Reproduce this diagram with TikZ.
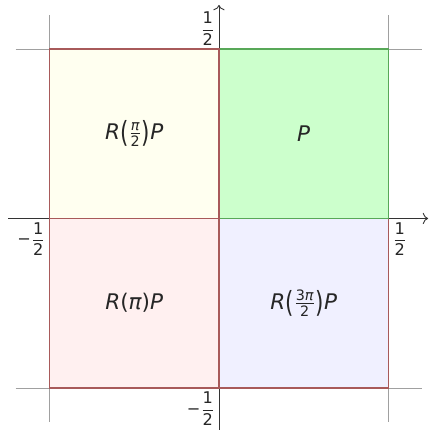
\documentclass[tikz,border=0pt]{standalone}
\usepackage{amsmath}
\usepackage{fontspec}
\setmainfont{DejaVu Sans}
\usepackage{tikz}
\usetikzlibrary{arrows.meta}
\definecolor{AXIS}{HTML}{333333}
\definecolor{GRID}{HTML}{A0A0A0}
\definecolor{EDGE}{HTML}{A85A5A}
\definecolor{GEDGE}{HTML}{58A858}
\definecolor{FQI}{HTML}{CCFFCC}
\definecolor{FQII}{HTML}{FFFFF0}
\definecolor{FQIII}{HTML}{FFF0F0}
\definecolor{FQIV}{HTML}{F0F0FF}
\newcommand{\qopen}{\raisebox{-0.3ex}{\scalebox{1}[1.35]{(}}}
\newcommand{\qclose}{\raisebox{-0.3ex}{\scalebox{1}[1.35]{)}}}
\newcommand{\half}{$\displaystyle\frac{\text{1}}{\text{2}}$}

\begin{document}
\begin{tikzpicture}[
  x=6.64cm, y=6.64cm,
  gridline/.style={GRID, line width=0.5pt},
  axisline/.style={AXIS, line width=0.5pt, -{To[length=3pt]}},
  quad/.style={draw=EDGE, line width=0.9pt},
  lab/.style={font=\large, text=black!85},
  tick/.style={font=\small, text=black!85, inner sep=2pt},
]
\useasboundingbox (-0.646,-0.624) rectangle (0.619,0.6445);

% grid lines at +-1/2
\foreach \v in {-0.5,0.5} {
  \draw[gridline] (\v,-0.6) -- (\v,0.6);
  \draw[gridline] (-0.6,\v) -- (0.6,\v);
}

% axes
\coordinate (xs) at (-0.622,0);
\coordinate (xe) at (0.617,0);
\coordinate (ys) at (0,-0.624);
\coordinate (ye) at (0,0.63);
\draw[axisline] (xs) -- (xe);
\draw[axisline] (ys) -- (ye);

% the four squares
\fill[FQIV] (0,-0.5) rectangle (0.5,0);
\draw[quad] (0,-0.5) rectangle (0.5,0);
\filldraw[fill=FQI, draw=GEDGE, line width=0.9pt] (0,0) rectangle (0.5,0.5);
\fill[FQIII] (-0.5,-0.5) rectangle (0,0);
\draw[quad] (-0.5,-0.5) rectangle (0,0);
\fill[FQII] (-0.5,0) rectangle (0,0.5);
\draw[quad] (-0.5,0) rectangle (0,0.5);

% labels
\node[lab] (qI) at (0.25,0.25) {\itshape P};
\node[lab] (qII) at (-0.25,0.25)
  {{\itshape R}\qopen$\frac{\text{\itshape π}}{\text{2}}$\qclose{\itshape P}};
\node[lab] (qIII) at (-0.25,-0.25) {{\itshape R}({\itshape π}){\itshape P}};
\node[lab] (qIV) at (0.25,-0.25)
  {{\itshape R}\qopen$\frac{\text{3\itshape π}}{\text{2}}$\qclose{\itshape P}};

% ticks
\coordinate (tT) at (0,0.5);
\coordinate (tB) at (0,-0.5);
\coordinate (tL) at (-0.5,0);
\coordinate (tR) at (0.5,0);
\node[tick, anchor=south east] (kT) at (tT) {\half};
\node[tick, anchor=north east] (kB) at (tB) {−\half};
\node[tick, anchor=north east] (kL) at (tL) {−\half};
\node[tick, anchor=north west] (kR) at (tR) {\half};
\end{tikzpicture}
\end{document}
